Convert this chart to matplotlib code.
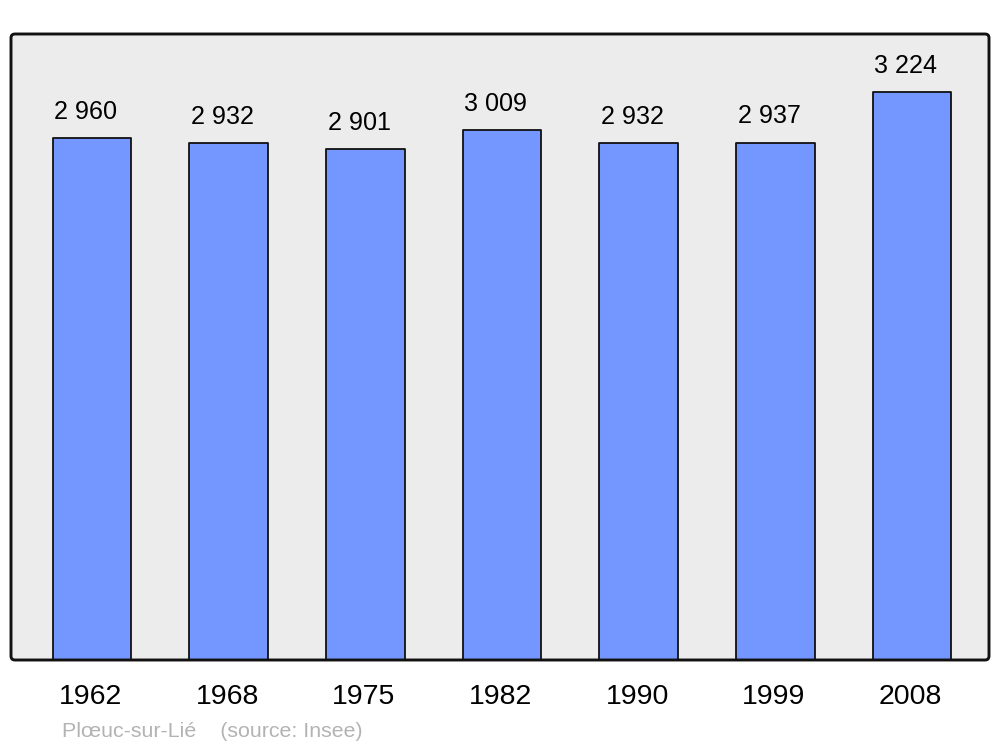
import matplotlib
matplotlib.use("Agg")
import matplotlib.pyplot as plt
from matplotlib.patches import FancyBboxPatch

years = ["1962", "1968", "1975", "1982", "1990", "1999", "2008"]
population = [2960, 2932, 2901, 3009, 2932, 2937, 3224]
value_labels = ["2 960", "2 932", "2 901", "3 009", "2 932", "2 937", "3 224"]
source_text = "Plœuc-sur-Lié    (source: Insee)"

plt.rcParams['font.family'] = ['Liberation Sans', 'DejaVu Sans']

W, H = 1000, 747
fig = plt.figure(figsize=(W / 100, H / 100), dpi=100)
fig.patch.set_facecolor('white')

left, right, top, bottom = 11, 989, 34, 660
ax = fig.add_axes([left / W, 1 - bottom / H, (right - left) / W, (bottom - top) / H])
ax.set_facecolor('none')
for s in ax.spines.values():
    s.set_visible(False)

# rounded frame background
frame = FancyBboxPatch((left / 100, (H - bottom) / 100), (right - left) / 100, (bottom - top) / 100,
                       boxstyle="round,pad=0,rounding_size=0.04",
                       transform=fig.dpi_scale_trans, facecolor='#ececec',
                       edgecolor='none', linewidth=0, zorder=0, clip_on=False)
ax.add_artist(frame)
# rounded frame border on top
frame2 = FancyBboxPatch((left / 100, (H - bottom) / 100), (right - left) / 100, (bottom - top) / 100,
                        boxstyle="round,pad=0,rounding_size=0.04",
                        transform=fig.dpi_scale_trans, facecolor='none',
                        edgecolor='#111111', linewidth=2.1, zorder=5, clip_on=False)
ax.add_artist(frame2)

x = list(range(len(years)))
bars = ax.bar(x, population, width=0.578, color='#7396ff', edgecolor='#111111',
              linewidth=1.3, zorder=2)
for b in bars:
    b.set_joinstyle('round')

ax.set_xlim(-0.5927, 6.5634)
ax.set_ylim(0, 3553)
ax.set_xticks([])
ax.set_yticks([])

for i, (v, lab) in enumerate(zip(population, value_labels)):
    ax.annotate(lab, xy=(i, v), xytext=(-4.5, 13.8), textcoords='offset points',
                ha='center', va='baseline', fontsize=18.1, color='black')

for i, y in enumerate(years):
    ax.annotate(y, xy=(i, 0), xycoords=('data', 'axes fraction'),
                xytext=(-1.0, -31.7), textcoords='offset points',
                ha='center', va='baseline', fontsize=20.5, color='black')

fig.text(62 / W, 1 - 737 / H, source_text, ha='left', va='baseline',
         fontsize=15.4, color='#b3b3b3')

fig.savefig('out.png', dpi=100)
